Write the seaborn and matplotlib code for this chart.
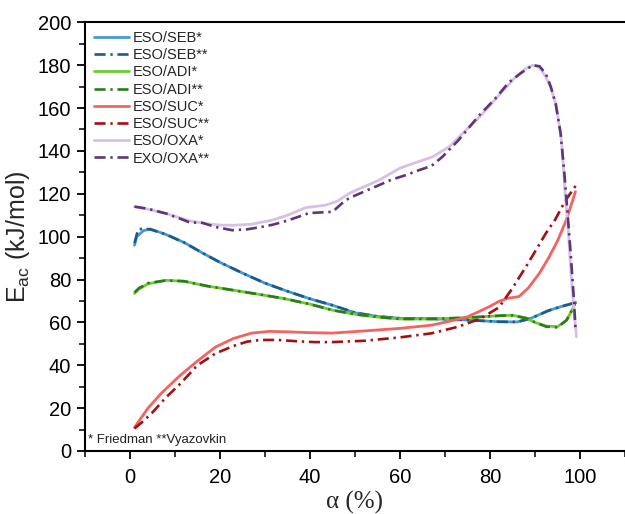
import numpy as np
import pandas as pd
import matplotlib
matplotlib.use("Agg")
import matplotlib.pyplot as plt
from matplotlib.ticker import MultipleLocator
import seaborn as sns

# ---- data ----
a_seb_f = [1, 1.5, 3, 4.5, 8, 12, 16, 20, 25, 30, 35, 40, 45, 50, 55, 60, 67, 75, 82, 86, 89, 93, 96, 99]
e_seb_f = [96, 100, 102.8, 103.6, 101, 97.3, 92.5, 88, 83, 78.3, 74.5, 71, 68, 64.5, 62.8, 61.9, 61.7, 61.1, 60.3, 60.2, 61.8, 65.5, 67.5, 69.2]
a_seb_v = [1, 1.8, 3, 4.5, 8, 12, 16, 20, 25, 30, 35, 40, 45, 50, 55, 60, 67, 75, 82, 86, 89, 93, 96, 99]
e_seb_v = [97, 103.4, 103.7, 103.4, 101, 97.3, 92.5, 88, 83, 78.3, 74.5, 71, 68, 64.5, 62.8, 61.9, 61.7, 61.1, 60.3, 60.2, 61.8, 65.5, 67.5, 69.2]

a_adi_f = [1, 2, 4, 8, 12, 17, 23, 28, 34, 40, 45, 50, 55, 60, 67, 75, 82, 85, 88, 90, 92.5, 95, 97, 98.3, 99]
e_adi_f = [73.5, 75.5, 78, 79.6, 79.2, 77, 75, 73.3, 71.2, 68.5, 65.7, 63.8, 62.5, 61.6, 61.6, 62.2, 63.1, 63.3, 62, 60, 58.3, 58, 61, 66, 69.5]
a_adi_v = [1, 2, 4, 8, 12, 17, 23, 28, 34, 40, 45, 50, 55, 60, 67, 75, 82, 85, 88, 90, 92.5, 95, 97, 98.3, 99]
e_adi_v = [74, 76, 78.3, 79.6, 79.2, 77, 75, 73.3, 71.2, 68.5, 65.7, 63.8, 62.5, 61.6, 61.6, 62.2, 63.1, 63.3, 62, 60, 58, 57.6, 61, 66, 69.5]

a_suc_f = [1, 2, 4, 7, 11, 15, 19, 23, 27, 31, 35, 40, 45, 52, 60, 67, 72, 75, 78, 80, 82, 84, 86.4, 88.5, 91, 93, 95, 97, 99]
e_suc_f = [11, 14, 20, 27, 35, 42, 48.5, 52.5, 55, 55.8, 55.6, 55.2, 55, 56, 57.2, 58.7, 61, 62.6, 65.5, 67.5, 69.8, 71.3, 72, 76, 83, 90, 98, 108, 121]
a_suc_v = [1, 3, 5, 8, 11, 15, 19, 23, 26, 29, 33, 37, 41, 45, 52, 60, 67, 73, 78, 82, 85, 88, 90, 92.4, 94.5, 96.8, 99.3]
e_suc_v = [10.5, 14, 18, 25, 31, 40, 45.5, 49, 51, 51.8, 51.8, 51.2, 50.8, 50.8, 51.4, 53, 54.9, 58, 61.9, 67, 76, 86, 93, 101.5, 108, 117, 124.5]

a_oxa_f = [1, 4, 8, 13, 17, 20, 23, 27, 31.6, 35, 39, 43.5, 46, 49, 52, 55.3, 60, 64, 67.2, 71, 74.6, 78, 82, 85.7, 88,
           89.5, 91, 92.4, 93.5, 94.6, 95.7, 96.1, 96.8, 97.4, 97.9, 98.5, 99.2]
e_oxa_f = [114, 112.8, 110.8, 107.5, 106, 105.4, 105.3, 105.8, 107.7, 110, 113.5, 114.7, 116.5, 120.5, 123.3, 126.3, 132, 134.9, 137.2, 142, 149.6, 156.5, 166, 174.5, 178.5,
           180, 179, 174.5, 169.5, 162, 148, 139, 117, 103, 86, 70, 53.3]
a_oxa_v = [1, 4, 8, 11, 13.3, 16, 19, 22.7, 26, 29.4, 31.6, 35, 39.8, 45, 47.9, 49.4, 52, 55.3, 58, 61.3, 64.2, 67, 69.4, 73, 77.6, 81, 84.2, 87,
           89.5, 91, 92.4, 93.5, 94.6, 95.7, 96.5, 97.2, 98, 98.6, 99]
e_oxa_v = [114, 113, 110.8, 108.5, 106.6, 106.5, 104.5, 103, 103.4, 104.6, 105.5, 107.5, 111, 111.6, 117, 118.6, 121, 124, 126.5, 128.7, 131, 133, 137.2, 145, 156.6, 164, 172, 176.5,
           180, 179.5, 176, 170, 162, 148, 130, 112, 90, 72, 57]

labels = ["ESO/SEB*", "ESO/SEB**", "ESO/ADI*", "ESO/ADI**", "ESO/SUC*", "ESO/SUC**", "ESO/OXA*", "EXO/OXA**"]
colors = ["#4499d4", "#1c5a88", "#6ccc2e", "#2b7a1f", "#f46262", "#a01212", "#d7c0e4", "#5c3679"]
xs = [a_seb_f, a_seb_v, a_adi_f, a_adi_v, a_suc_f, a_suc_v, a_oxa_f, a_oxa_v]
ys = [e_seb_f, e_seb_v, e_adi_f, e_adi_v, e_suc_f, e_suc_v, e_oxa_f, e_oxa_v]

sns.set_style("ticks")
plt.rcParams["font.family"] = ["Liberation Sans", "DejaVu Sans"]

fig = plt.figure(figsize=(6.25, 5.14), dpi=100)
ax = fig.add_axes([0.136, 0.1226, 0.864, 0.834])

dashdot = (0, (4.2, 1.8, 0.9, 1.8))
for i in range(len(labels)):
    df = pd.DataFrame({"alpha": xs[i], "E": ys[i]})
    solid = (i % 2 == 0)
    sns.lineplot(data=df, x="alpha", y="E", ax=ax, color=colors[i],
                 linewidth=2.0 if solid else 1.9,
                 linestyle="-" if solid else dashdot,
                 label=labels[i], sort=False, estimator=None)

ax.set_xlim(-10, 110)
ax.set_ylim(0, 200)
ax.xaxis.set_major_locator(MultipleLocator(20))
ax.xaxis.set_minor_locator(MultipleLocator(10))
ax.yaxis.set_major_locator(MultipleLocator(20))
ax.yaxis.set_minor_locator(MultipleLocator(10))
ax.tick_params(which="major", direction="out", length=6, width=1.3, labelsize=14.5, colors="black", pad=4)
ax.tick_params(axis="x", which="major", pad=6)
ax.tick_params(which="minor", direction="out", length=4, width=1.3)
for s in ["left", "bottom", "top"]:
    ax.spines[s].set_linewidth(1.5)
    ax.spines[s].set_color("black")
ax.spines["right"].set_visible(False)

ax.set_xlabel("α (%)", fontsize=18, family=["Liberation Serif", "DejaVu Serif"], labelpad=3)
ax.set_ylabel("E$_{\\mathregular{ac}}$ (kJ/mol)", fontsize=18, labelpad=4)

leg = ax.legend(loc="upper left", frameon=False, fontsize=10.5, handlelength=2.4,
                handletextpad=0.3, labelspacing=0.22, borderaxespad=0.2,
                bbox_to_anchor=(0.0, 1.0))

ax.text(0.005, 0.012, "* Friedman **Vyazovkin", transform=ax.transAxes, fontsize=9.5,
        ha="left", va="bottom", color="#222222")

fig.savefig("out.png", dpi=100)
